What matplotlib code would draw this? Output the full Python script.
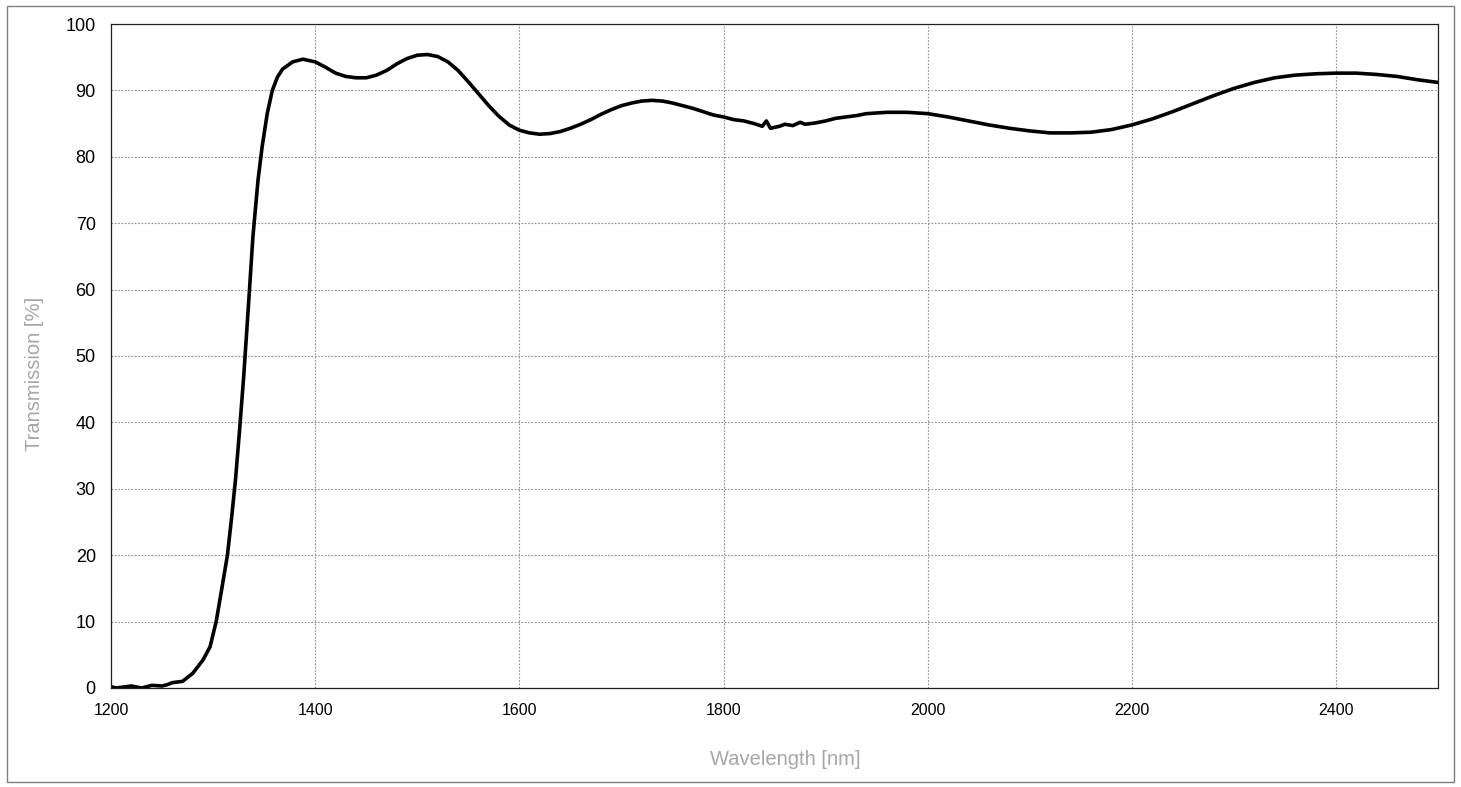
import matplotlib
matplotlib.use("Agg")
import matplotlib.pyplot as plt
from matplotlib.patches import Rectangle

# wavelength [nm] and transmission [%]
wavelength = [1200, 1205, 1210, 1220, 1230, 1240, 1250, 1255, 1260, 1270, 1280, 1290,
              1297, 1303, 1308, 1314, 1318, 1322, 1326, 1330, 1335, 1339, 1344, 1348, 1353,
              1358, 1363, 1368, 1378, 1388, 1400, 1410, 1420, 1430, 1440, 1450, 1460, 1470,
              1480, 1490, 1500, 1510, 1520, 1530, 1540, 1550, 1560, 1570, 1580, 1590,
              1600, 1610, 1620, 1630, 1640, 1650, 1660, 1670, 1680, 1690, 1700, 1710,
              1720, 1730, 1740, 1750, 1760, 1770, 1780, 1790, 1800, 1810, 1820, 1830,
              1838, 1842, 1846, 1855, 1860, 1868, 1875, 1880, 1890, 1900, 1910, 1920,
              1930, 1940, 1950, 1960, 1970, 1980, 1990, 2000, 2020, 2040, 2060, 2080,
              2100, 2120, 2140, 2160, 2180, 2200, 2220, 2240, 2260, 2280, 2300, 2320,
              2340, 2360, 2380, 2400, 2420, 2440, 2460, 2480, 2500]
transmission = [0.2, 0.0, 0.1, 0.3, 0.0, 0.4, 0.3, 0.5, 0.8, 1.0, 2.2, 4.2,
                6.2, 10.0, 14.5, 20.0, 25.5, 31.5, 39.0, 47.0, 58.5, 68.0, 76.5, 81.5, 86.5,
                90.0, 92.0, 93.2, 94.3, 94.7, 94.3, 93.5, 92.6, 92.1, 91.9, 91.9, 92.3, 93.0,
                94.0, 94.8, 95.3, 95.4, 95.1, 94.3, 93.0, 91.3, 89.5, 87.7, 86.1, 84.8,
                84.0, 83.6, 83.4, 83.5, 83.8, 84.3, 84.9, 85.6, 86.4, 87.1, 87.7, 88.1,
                88.4, 88.5, 88.4, 88.1, 87.7, 87.3, 86.8, 86.3, 86.0, 85.6, 85.4, 85.0,
                84.6, 85.4, 84.3, 84.6, 84.9, 84.7, 85.2, 84.9, 85.1, 85.4, 85.8, 86.0,
                86.2, 86.5, 86.6, 86.7, 86.7, 86.7, 86.6, 86.5, 86.0, 85.4, 84.8, 84.3,
                83.9, 83.6, 83.6, 83.7, 84.1, 84.8, 85.7, 86.8, 88.0, 89.2, 90.3, 91.2,
                91.9, 92.3, 92.5, 92.6, 92.6, 92.4, 92.1, 91.6, 91.2]

x_ticks = [1200, 1400, 1600, 1800, 2000, 2200, 2400]
y_ticks = [0, 10, 20, 30, 40, 50, 60, 70, 80, 90, 100]

plt.rcParams['font.family'] = ['Liberation Sans', 'DejaVu Sans']

fig = plt.figure(figsize=(14.61, 7.87), dpi=100)
ax = fig.add_axes([0.076, 0.1258, 0.9083, 0.8437])

ax.plot(wavelength, transmission, color='black', linewidth=2.6)

ax.set_xlim(1200, 2500)
ax.set_ylim(0, 100)
ax.set_xticks(x_ticks)
ax.set_yticks(y_ticks)
ax.tick_params(axis='x', length=0, labelsize=11.5, pad=11)
ax.tick_params(axis='y', length=0, labelsize=13, pad=11)
ax.grid(True, color='#909090', linestyle=(0, (1.5, 1.5)), linewidth=0.8)
for s in ax.spines.values():
    s.set_linestyle((0, (1.5, 1)))
    s.set_linewidth(0.9)
    s.set_color('#202020')

ax.set_xlabel("Wavelength [nm]", color='#a6a6a6', fontsize=14.5, va='center')
ax.set_ylabel("Transmission [%]", color='#a6a6a6', fontsize=14.5, va='center')
ax.xaxis.set_label_coords(0.508, -0.1084)
ax.yaxis.set_label_coords(-0.0573, 0.473)

fig.patches.append(Rectangle((0.0045, 0.006), 0.991, 0.987, transform=fig.transFigure,
                             fill=False, edgecolor='#808080', linewidth=1))

fig.savefig("out.png", dpi=100)
